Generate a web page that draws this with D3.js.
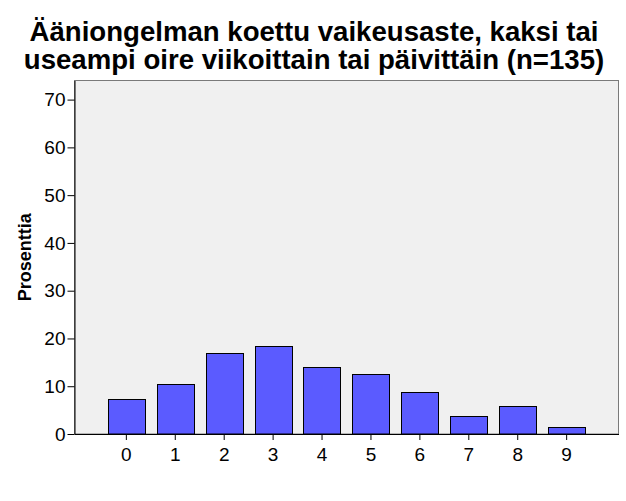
<!DOCTYPE html>
<html>
<head>
<meta charset="utf-8">
<script src="https://cdn.jsdelivr.net/npm/d3@7"></script>
<style>
  html, body { margin: 0; padding: 0; background: #fff; }
  svg { display: block; font-family: "Liberation Sans", Arial, sans-serif; }
</style>
</head>
<body>
<svg id="chart" width="626" height="501"></svg>
<script>
// ---- data ----
const titleLines = ["Ääniongelman koettu vaikeusaste, kaksi tai",
                    "useampi oire viikoittain tai päivittäin (n=135)"];
const yLabel = "Prosenttia";
const categories = ["0", "1", "2", "3", "4", "5", "6", "7", "8", "9"];
const percents = [7.41, 10.37, 17.04, 18.52, 14.07, 12.59, 8.89, 3.70, 5.93, 1.48];
const yTicks = [0, 10, 20, 30, 40, 50, 60, 70];

// ---- layout ----
const W = 626, H = 501;
const plot = { left: 74.5, right: 618.5, top: 80.5, bottom: 434 };

const svg = d3.select("#chart");

const x = d3.scaleBand()
  .domain(categories)
  .range([plot.left, plot.right])
  .paddingInner(0.24)
  .paddingOuter(0.68);

const y = d3.scaleLinear()
  .domain([0, 74])
  .range([plot.bottom, plot.top]);

// plot background + frame
svg.append("rect")
  .attr("x", plot.left).attr("y", plot.top)
  .attr("width", plot.right - plot.left)
  .attr("height", plot.bottom - plot.top)
  .attr("fill", "#f0f0f0")
  .attr("stroke", "#7a7a7a")
  .attr("stroke-width", 1);

// bars
svg.append("g").selectAll("rect")
  .data(categories.map((c, i) => ({ c, v: percents[i] })))
  .join("rect")
  .attr("x", d => Math.round(x(d.c)) + 0.5)
  .attr("y", d => Math.round(y(d.v)) + 0.5)
  .attr("width", Math.round(x.bandwidth()))
  .attr("height", d => plot.bottom - Math.round(y(d.v)) - 0.5)
  .attr("fill", "#5b5bff")
  .attr("stroke", "#000")
  .attr("stroke-width", 1);

// y axis
const yAxis = d3.axisLeft(y).tickValues(yTicks).tickSize(7).tickPadding(2).tickSizeOuter(0);
const gy = svg.append("g")
  .attr("transform", `translate(${plot.left},0)`)
  .call(yAxis);
gy.select(".domain").attr("stroke", "#000");
gy.selectAll(".tick line").attr("stroke", "#000");
gy.selectAll(".tick text")
  .attr("font-size", 19)
  .attr("font-family", "Liberation Sans, Arial, sans-serif")
  .attr("fill", "#000");

// x axis
const xAxis = d3.axisBottom(x).tickSize(6).tickPadding(8).tickSizeOuter(0);
const gx = svg.append("g")
  .attr("transform", `translate(0,${plot.bottom})`)
  .call(xAxis);
gx.select(".domain").attr("stroke", "#000");
gx.selectAll(".tick line").attr("stroke", "#000");
gx.selectAll(".tick text")
  .attr("font-size", 19)
  .attr("font-family", "Liberation Sans, Arial, sans-serif")
  .attr("fill", "#000");

// title
svg.append("g").selectAll("text")
  .data(titleLines)
  .join("text")
  .attr("x", 314)
  .attr("y", (d, i) => 41 + i * 27.5)
  .attr("text-anchor", "middle")
  .attr("font-size", 27.6)
  .attr("font-weight", "bold")
  .attr("fill", "#000")
  .text(d => d);

// y label
svg.append("text")
  .attr("transform", `translate(31,${(plot.top + plot.bottom) / 2}) rotate(-90)`)
  .attr("text-anchor", "middle")
  .attr("font-size", 18)
  .attr("font-weight", "bold")
  .attr("fill", "#000")
  .text(yLabel);
</script>
</body>
</html>
